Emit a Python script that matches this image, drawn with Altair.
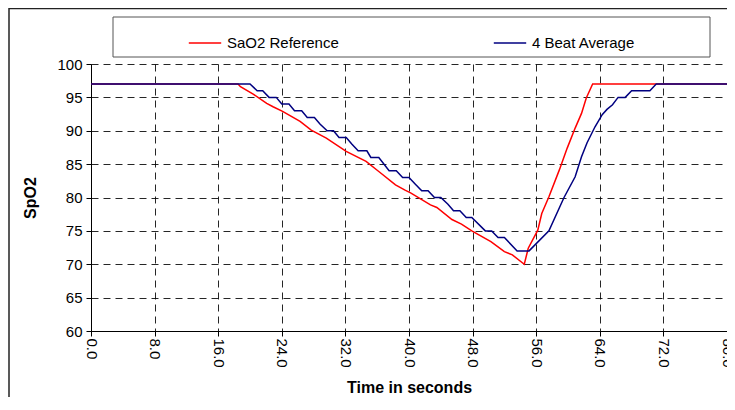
import altair as alt
import pandas as pd

# SaO2 reference curve (time in s, SpO2 %)
red_t = [0, 18.5, 18.8, 20.4, 22.1, 22.9, 24.1, 26.3, 27.7, 29.6, 32.1, 34.6, 36.2,
         38.3, 39.5, 40.2, 42.7, 43.5, 45.4, 46.6, 47.9, 50.3, 52.0, 53.0, 54.5,
         55.0, 56.2, 56.7, 57.6, 58.9, 59.9, 60.9, 61.7, 62.3, 63.1, 80]
red_v = [97, 97, 96.6, 95.5, 94.1, 93.6, 92.9, 91.4, 90.1, 88.9, 86.9, 85.4, 83.9,
         81.9, 81.1, 80.7, 78.9, 78.5, 76.7, 76.0, 75.0, 73.4, 71.9, 71.4, 70.0,
         72.4, 75.1, 77.6, 80.1, 84.1, 87.4, 90.4, 92.6, 94.9, 97.0, 97]

# 4 beat average (stair-stepped)
blue_t = [0, 20.0, 20.9, 21.6, 22.4, 23.3, 24.0, 24.9, 25.6, 26.5, 27.2, 28.1, 28.8,
          29.7, 30.5, 31.2, 32.1, 32.8, 33.6, 34.7, 35.2, 36.2, 37.5, 38.4, 39.2,
          40.0, 40.8, 41.6, 42.4, 43.2, 44.0, 44.9, 45.6, 46.4, 47.2, 47.9, 49.6,
          50.4, 51.2, 52.0, 53.6, 55.1, 57.6, 59.5, 60.9, 61.7, 62.4, 63.4, 64.3,
          64.9, 65.6, 66.3, 67.2, 68.0, 70.3, 71.1, 80]
blue_v = [97, 97, 96, 96, 95, 95, 94, 94, 93, 93, 92, 92, 91,
          90, 90, 89, 89, 88, 87, 87, 86, 86, 84, 84, 83,
          83, 82, 81, 81, 80, 80, 79, 78, 78, 77, 77, 75,
          75, 74, 74, 72, 72, 75, 80, 83.1, 86.1, 88.2, 90.6, 92.4,
          93.2, 93.9, 95, 95, 96, 96, 97, 97]

series_names = ["SaO2 Reference", "4 Beat Average"]
series_colors = ["#ff0000", "#000080"]
x_ticks = [0, 8, 16, 24, 32, 40, 48, 56, 64, 72, 80]
y_ticks = [60, 65, 70, 75, 80, 85, 90, 95, 100]

df = pd.concat([
    pd.DataFrame({"t": red_t, "v": red_v, "series": series_names[0]}),
    pd.DataFrame({"t": blue_t, "v": blue_v, "series": series_names[1]}),
], ignore_index=True)

FONT = "Liberation Sans"
W, H = 636, 267

x_enc = alt.X("t:Q", scale=alt.Scale(domain=[0, 80], nice=False, zero=False),
              axis=alt.Axis(values=x_ticks, format=".1f", labelAngle=90,
                            title="Time in seconds", titleX=W / 2, titleY=61,
                            titleBaseline="alphabetic", labelPadding=2))
y_enc = alt.Y("v:Q", scale=alt.Scale(domain=[60, 100], nice=False, zero=False),
              axis=alt.Axis(values=y_ticks, title="SpO2", titleX=-56, titleY=H / 2,
                            titleBaseline="alphabetic", labelPadding=4))
color_enc = alt.Color("series:N",
                      scale=alt.Scale(domain=series_names, range=series_colors),
                      legend=alt.Legend(title=None, orient="none", legendX=97, legendY=-38,
                                        direction="horizontal", columns=2,
                                        symbolType="stroke", symbolSize=1050,
                                        symbolStrokeWidth=1.5, labelOffset=5,
                                        columnPadding=151, padding=0,
                                        labelFontSize=15, labelFont=FONT,
                                        labelColor="black"))

base = alt.Chart(df)
red_line = base.transform_filter(alt.datum.series == series_names[0]).mark_line(
    strokeWidth=1.5).encode(x=x_enc, y=y_enc, color=color_enc)
blue_line = base.transform_filter(alt.datum.series == series_names[1]).mark_line(
    strokeWidth=1.5).encode(x=x_enc, y=y_enc, color=color_enc)

one = alt.Data(values=[{"a": 1}])
legend_box = alt.Chart(one).mark_rect(fill="white", stroke="#555555", strokeWidth=1).encode(
    x=alt.value(22), x2=alt.value(619), y=alt.value(-47), y2=alt.value(-7))
left_border = alt.Chart(one).mark_rule(color="#222222", strokeWidth=1.5).encode(
    x=alt.value(-82), y=alt.value(-56), y2=alt.value(400))
top_border = alt.Chart(one).mark_rule(color="#222222", strokeWidth=1.5).encode(
    x=alt.value(-82), x2=alt.value(700), y=alt.value(-55.5))

chart = alt.layer(left_border, top_border, legend_box, red_line, blue_line).properties(
    width=W, height=H,
    autosize=alt.AutoSizeParams(type="none"),
    padding={"left": 83, "top": 56, "right": 0, "bottom": 66},
    background="white",
).configure_view(stroke=None).configure_axis(
    labelFont=FONT, titleFont=FONT, labelFontSize=15, titleFontSize=16,
    titleFontWeight="bold", labelColor="black", titleColor="black",
    domainColor="black", tickColor="black", tickSize=5, domainWidth=1,
    gridColor="black", gridDash=[7, 5], gridWidth=1, gridOpacity=0.85,
)

chart.save("out.html", embed_options={"renderer": "svg", "actions": False})
